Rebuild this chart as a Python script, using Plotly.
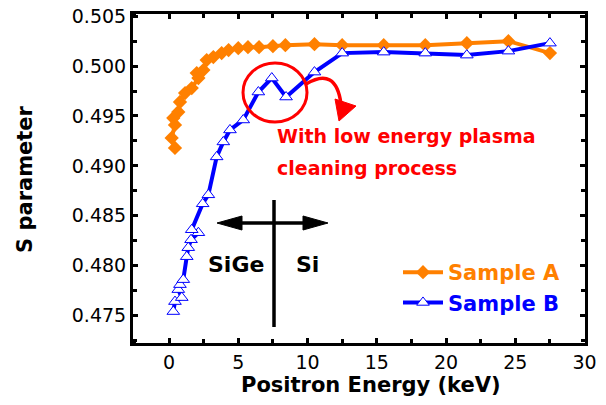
import plotly.graph_objects as go

# ---------------- data ----------------
energy_a = [0.43, 0.19, 0.43, 0.31, 0.67, 0.79, 1.16, 1.64, 2.12, 2.0, 2.48, 2.72, 3.2,
            3.8, 4.3, 5.0, 5.7, 6.5, 7.5, 8.4, 10.5, 12.5, 15.5, 18.5, 21.5, 24.5, 27.5]
s_a = [0.4918, 0.4928, 0.4941, 0.4948, 0.4954, 0.4964, 0.4973, 0.4978, 0.4988, 0.4993,
       0.4996, 0.5006, 0.5009, 0.5013, 0.5016, 0.5018, 0.5019, 0.5019, 0.5020, 0.5021,
       0.5022, 0.5021, 0.5021, 0.5021, 0.5023, 0.5025, 0.5013]

energy_b = [0.31, 0.43, 0.92, 0.67, 0.79, 1.03, 1.28, 1.39, 1.59, 2.12, 1.64, 2.43, 2.84,
            3.44, 3.92, 4.40, 5.36, 6.45, 7.42, 8.45, 10.5, 12.5, 15.5, 18.5, 21.5, 24.5, 27.5]
s_b = [0.4754, 0.4764, 0.4768, 0.4776, 0.4781, 0.4786, 0.4809, 0.4818, 0.4826, 0.4833,
       0.4836, 0.4862, 0.4871, 0.4909, 0.4924, 0.4936, 0.4946, 0.4974, 0.4988, 0.4969,
       0.4994, 0.5013, 0.5014, 0.5013, 0.5011, 0.5015, 0.5023]

x_ticks = [0, 5, 10, 15, 20, 25, 30]
y_ticks = [0.475, 0.480, 0.485, 0.490, 0.495, 0.500, 0.505]
y_tick_labels = ["0.475", "0.480", "0.485", "0.490", "0.495", "0.500", "0.505"]

ORANGE = "#FF8000"
BLUE = "#0000FF"
RED = "#FF0000"
FONT = "DejaVu Sans"

# layout geometry (pixels)
W, H = 606, 405
L, R, T, B = 133, 585, 14, 343
XR = [-2.6, 30.03]
YR = [0.47225, 0.50522]


def px2x(px):
    return XR[0] + (px - L) / (R - L) * (XR[1] - XR[0])


def px2y(py):
    return YR[1] - (py - T) / (B - T) * (YR[1] - YR[0])


fig = go.Figure()
fig.add_trace(go.Scatter(
    x=energy_a, y=s_a, mode="lines+markers",
    name="<span style='color:%s'><b>Sample A</b></span>" % ORANGE,
    line=dict(color=ORANGE, width=4),
    marker=dict(symbol="diamond", size=11, color=ORANGE, line=dict(width=0)),
))
fig.add_trace(go.Scatter(
    x=energy_b, y=s_b, mode="lines+markers",
    name="<span style='color:%s'><b>Sample B</b></span>" % BLUE,
    line=dict(color=BLUE, width=4),
    marker=dict(symbol="triangle-up", size=11, color="white", line=dict(color=BLUE, width=1)),
))

shapes = []
# red ellipse
shapes.append(dict(type="circle", xref="x", yref="y",
                   x0=px2x(243), x1=px2x(307), y0=px2y(122), y1=px2y(63),
                   line=dict(color=RED, width=3)))
# red curved arrow
shapes.append(dict(type="path", xref="x", yref="y",
                   path="M %f,%f Q %f,%f %f,%f" % (px2x(306), px2y(84), px2x(336), px2y(66),
                                                   px2x(341), px2y(104)),
                   line=dict(color=RED, width=3.5)))
shapes.append(dict(type="path", xref="x", yref="y",
                   path="M %f,%f L %f,%f L %f,%f Z" % (px2x(335), px2y(99), px2x(356), px2y(106),
                                                       px2x(339), px2y(121)),
                   line=dict(color=RED, width=1), fillcolor=RED))
# black cross: vertical line
shapes.append(dict(type="line", xref="x", yref="y",
                   x0=px2x(274), x1=px2x(274), y0=px2y(200), y1=px2y(327),
                   line=dict(color="black", width=3.5)))
# horizontal shaft
shapes.append(dict(type="line", xref="x", yref="y",
                   x0=px2x(238), x1=px2x(306), y0=px2y(223), y1=px2y(223),
                   line=dict(color="black", width=3.5)))
# arrow heads
shapes.append(dict(type="path", xref="x", yref="y",
                   path="M %f,%f L %f,%f L %f,%f Z" % (px2x(217), px2y(223), px2x(242), px2y(216),
                                                       px2x(242), px2y(230)),
                   line=dict(color="black", width=1), fillcolor="black"))
shapes.append(dict(type="path", xref="x", yref="y",
                   path="M %f,%f L %f,%f L %f,%f Z" % (px2x(328), px2y(223), px2x(303), px2y(216),
                                                       px2x(303), px2y(230)),
                   line=dict(color="black", width=1), fillcolor="black"))

annotations = [
    dict(text="<b>With low energy plasma</b>", x=px2x(275), y=px2y(136), xref="x", yref="y",
         xanchor="left", yanchor="middle", showarrow=False,
         font=dict(family=FONT, size=19, color=RED)),
    dict(text="<b>cleaning process</b>", x=px2x(275), y=px2y(168), xref="x", yref="y",
         xanchor="left", yanchor="middle", showarrow=False,
         font=dict(family=FONT, size=19, color=RED)),
    dict(text="<b>SiGe</b>", x=px2x(236), y=px2y(264), xref="x", yref="y",
         xanchor="center", yanchor="middle", showarrow=False,
         font=dict(family=FONT, size=22, color="black")),
    dict(text="<b>Si</b>", x=px2x(307), y=px2y(264), xref="x", yref="y",
         xanchor="center", yanchor="middle", showarrow=False,
         font=dict(family=FONT, size=22, color="black")),
    dict(text="<b>Positron Energy (keV)</b>", x=(371 - L) / (R - L), y=(B - 385) / (B - T),
         xref="paper", yref="paper", xanchor="center", yanchor="middle", showarrow=False,
         font=dict(family=FONT, size=21, color="black")),
    dict(text="<b>S parameter</b>", x=(25 - L) / (R - L), y=(B - 179) / (B - T),
         xref="paper", yref="paper", xanchor="center", yanchor="middle", showarrow=False,
         textangle=-90, font=dict(family=FONT, size=21, color="black")),
]

axis_common = dict(showgrid=False, zeroline=False, showline=True, linecolor="black",
                   linewidth=3, mirror="allticks", ticks="inside", ticklen=5, tickwidth=3,
                   tickcolor="black", automargin=False,
                   tickfont=dict(family=FONT, size=19, color="black"))

fig.update_layout(
    width=W, height=H,
    margin=dict(l=L, r=W - R, t=T, b=H - B, autoexpand=False),
    plot_bgcolor="white", paper_bgcolor="white",
    xaxis=dict(range=XR, tickvals=x_ticks,
               minor=dict(dtick=2.5, tick0=0, ticks="inside", ticklen=4, tickwidth=3,
                          tickcolor="black"),
               **axis_common),
    yaxis=dict(range=YR, tickvals=y_ticks, ticktext=y_tick_labels,
               minor=dict(dtick=0.0025, tick0=0.475, ticks="inside", ticklen=4, tickwidth=3,
                          tickcolor="black"),
               **axis_common),
    showlegend=True,
    legend=dict(x=(398 - L) / (R - L), y=(B - 252) / (B - T), xanchor="left", yanchor="top",
                bgcolor="rgba(0,0,0,0)", font=dict(family=FONT, size=21),
                itemwidth=40, tracegroupgap=0),
    shapes=shapes,
    annotations=annotations,
)

fig.write_html("out.html", config={"displayModeBar": False},
               post_script="document.body.style.margin='0';document.body.style.padding='0';")
